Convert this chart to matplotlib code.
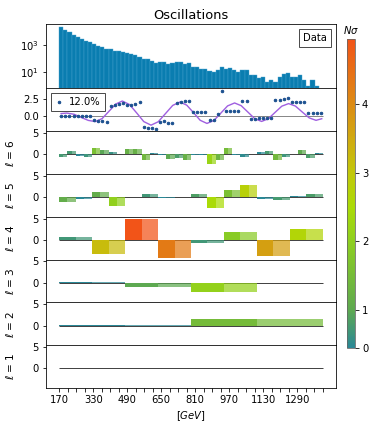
import numpy as np
import matplotlib
matplotlib.use('Agg')
import matplotlib.pyplot as plt
from matplotlib.colors import LinearSegmentedColormap, Normalize
from matplotlib.lines import Line2D
from matplotlib.cm import ScalarMappable

# ---------------- data ----------------
x_min, x_max = 170, 1410
n_fine = 64

counts = [19500, 12600, 8500, 5700, 4100, 2750, 1960, 1570, 1180, 845, 675, 510,
          480, 390, 365, 310, 248, 210, 197, 141, 90, 90, 63, 51, 61, 54, 43, 51,
          54, 54, 43, 46, 26, 25, 18, 17, 13, 11, 15, 23, 19, 22, 15, 11, 14, 14,
          7, 6, 4, 5, 2, 3, 2, 5, 8, 9, 5, 5, 6, 3, 1, 3, 1]

residuals = [0.0, 0.0, 0.0, 0.0, 0.0, 0.0, 0.0, 0.0,
             -0.75, -0.8, -0.85, -1.0,
             1.45, 1.63, 1.8, 1.95, 1.7, 1.63, 1.83, 2.04,
             -1.75, -1.9, -2.0, -2.15,
             -0.97, -0.87, -1.1, -1.2,
             2.02, 2.12, 2.2, 2.3,
             0.5, 0.5, 0.5, 0.5,
             -0.72, -0.72, 0.27, 3.85,
             0.72, 0.72, 0.72, 0.72,
             2.2, 2.2, -0.6, -0.6,
             -0.33, -0.33, -0.33, -0.33,
             2.4, 2.45, 2.5, 2.65,
             2.15, 2.15, 2.15, 2.15,
             0.42, 0.42, 0.42, 0.42]

model_x = [179, 206, 240, 273, 307, 340, 372, 404, 436, 467, 501, 535, 568, 602,
           636, 670, 704, 738, 770, 802, 833, 865, 898, 930, 962, 995, 1026, 1058,
           1090, 1122, 1153, 1185, 1217, 1249, 1281, 1313, 1346, 1378, 1405]
model_y = [0.3, 0.38, 0.19, -0.29, -0.76, -0.95, -0.48, 0.65, 1.78, 2.25, 1.70,
           0.38, -0.95, -1.5, -0.97, 0.3, 1.57, 2.1, 1.61, 0.44, -0.74, -1.23,
           -0.77, 0.36, 1.49, 1.95, 1.53, 0.52, -0.5, -0.92, -0.52, 0.47, 1.45,
           1.85, 1.47, 0.55, -0.37, -0.75, -0.5]

legend_label = '12.0%'

coef_l1 = [0.1]
coef_l2 = [0.05, 1.48]
coef_l3 = [0.06, -1.0, -2.1, -0.05]
coef_l4 = [0.7, -3.2, 5.0, -4.3, -0.7, 1.9, -3.68, 2.66]
coef_l5 = [-1.1, -0.45, 1.1, -2.05, 0.12, 0.7, -0.15, 0.1, 0.85, -2.5, 1.6, 2.8,
           -0.45, -0.75, 0.3, 0.8]
coef_l6 = [-0.73, 0.73, -0.37, -0.67, 1.6, 0.96, 0.6, 0.2, 1.2, 1.2, -1.4, 0.37,
           -0.2, -1.0, -0.8, -1.2, -0.05, -0.1, -2.2, -1.3, 1.5, -0.1, -0.5, 0.05,
           0.45, 0.75, -1.4, -0.67, 0.2, 1.03, -0.8, 0.37]
levels = [6, 5, 4, 3, 2, 1]
coefs = {1: coef_l1, 2: coef_l2, 3: coef_l3, 4: coef_l4, 5: coef_l5, 6: coef_l6}

tick_values = list(range(170, 1411, 40))
cbar_tick_labels = ['0', '1', '2', '3', '4']

# ---------------- style ----------------
plt.rcParams['font.family'] = ['DejaVu Sans']
fig = plt.figure(figsize=(372 / 72, 432 / 72), dpi=72)
gs = fig.add_gridspec(8, 1, height_ratios=[1.5, 1, 1, 1, 1, 1, 1, 1], hspace=0,
                      left=46 / 372, right=336 / 372, top=1 - 24.3 / 432,
                      bottom=1 - 388 / 432)
axes = [fig.add_subplot(gs[0])]
for i in range(1, 8):
    axes.append(fig.add_subplot(gs[i], sharex=axes[0]))

norm = Normalize(vmin=0.445, vmax=4.956)
anchor_vals = [0.445, 1.0, 2.0, 2.5, 3.0, 3.5, 4.0, 4.956]
anchor_cols = ['#2a8896', '#5ea950', '#8ecf20', '#aadb06', '#c2c80a', '#d0aa10',
               '#dc8c14', '#f25418']
cmap = LinearSegmentedColormap.from_list(
    'nsig', list(zip([float(norm(v)) for v in anchor_vals], anchor_cols)))

edges = np.linspace(x_min, x_max, n_fine + 1)
w = edges[1] - edges[0]
centers = edges[:-1] + w / 2

# histogram panel
ax = axes[0]
ax.bar(edges[:len(counts)], counts, width=w, align='edge', color='#0a7db0',
       edgecolor='#4aa3cf', linewidth=0.4)
ax.set_yscale('log')
ax.set_ylim(0.68, 32000)
ax.set_yticks([10, 1000])
ax.yaxis.set_minor_locator(matplotlib.ticker.NullLocator())
ax.set_title('Oscillations', fontsize=13, pad=5)
leg = ax.legend([Line2D([], [], lw=0)], ['Data'], loc='upper right',
                handlelength=0, handletextpad=0, fancybox=False,
                edgecolor='0.3', framealpha=1)

# residual panel
ax = axes[1]
ax.hlines(0, x_min, x_max, color='#888888', lw=1.0, zorder=1)
ax.plot(model_x, model_y, color='#a060e0', lw=1.4, zorder=2)
ax.plot(centers, residuals, 'o', color='#1a4f8f', ms=2.5, zorder=3,
        label=legend_label)
ax.set_ylim(-2.45, 4.2)
ax.set_yticks([0.0, 2.5])
ax.set_yticklabels(['0.0', '2.5'])
ax.legend(loc='upper left', handlelength=0.8, handletextpad=0.6, numpoints=1,
          fancybox=False, edgecolor='0.3', framealpha=1, markerscale=1.0)

# wavelet level panels
for ax, lv in zip(axes[2:], levels):
    vals = coefs[lv]
    n = len(vals)
    seg = (x_max - x_min) / n
    ax.hlines(0, x_min, x_max, color='#303030', lw=0.9, zorder=1)
    for k, v in enumerate(vals):
        c = cmap(norm(abs(v)))
        x0 = x_min + k * seg
        ax.bar(x0, v, width=seg / 2, align='edge', color=c, alpha=1.0,
               linewidth=0, zorder=2)
        ax.bar(x0 + seg / 2, v, width=seg / 2, align='edge', color=c,
               alpha=0.72, linewidth=0, zorder=2)
    ax.set_ylim(-4.6, 5.4)
    ax.set_yticks([0, 5])
    ax.set_ylabel(r'$\ell$ = %d' % lv, fontsize=10.5)
    ax.yaxis.set_label_coords(-0.105, 0.5)

for ax in axes[:-1]:
    ax.tick_params(axis='x', bottom=False, labelbottom=False)

axb = axes[-1]
axb.set_xlim(108, 1472)
axb.set_xticks(tick_values)
axb.set_xticklabels([str(v) if (v - 170) % 160 == 0 else '' for v in tick_values])
axb.set_xlabel(r'$[GeV]$')

# colorbar
cax = fig.add_axes([347 / 372, 1 - 348 / 432, 8 / 372, 309 / 432])
sm = ScalarMappable(norm=norm, cmap=cmap)
cb = fig.colorbar(sm, cax=cax)
cb.set_ticks([norm.vmin, 1, 2, 3, 4])
cb.set_ticklabels(cbar_tick_labels)
cb.outline.set_edgecolor('0.4')
cax.set_title(r'$N\sigma$', fontsize=10, pad=5)

fig.savefig('out.png', dpi=72)
